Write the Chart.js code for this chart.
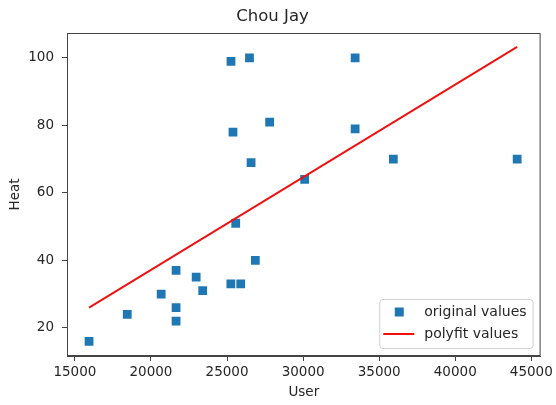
<!DOCTYPE html>
<html>
<head>
<meta charset="utf-8">
<title>Chou Jay</title>
<script src="https://cdn.jsdelivr.net/npm/chart.js@4/dist/chart.umd.min.js"></script>
<style>
  body { margin: 0; background: #fff; }
  #wrap { width: 556px; height: 405px; }
</style>
</head>
<body>
<div id="wrap"><canvas id="chart" width="556" height="405"></canvas></div>
<script>
// データ
const userValues = [15930, 18440, 20670, 21650, 21650, 21650, 22970, 23400, 25250, 25900, 25570,
  26860, 25260, 26475, 25390, 26580, 27800, 30100, 33420, 33420, 35930, 44070];
const heatValues = [16, 24, 30, 37, 26, 22, 35, 31, 33, 33, 51,
  40, 99, 100, 78, 69, 81, 64, 100, 79, 70, 70];

// 近似直線の両端
const polyUser = [15930, 44070];
const polyHeat = [26.0, 103.3];

// 目盛り
const xTicks = [15000, 20000, 25000, 30000, 35000, 40000, 45000];
const yTicks = [20, 40, 60, 80, 100];

const textColor = '#262626';
const frameColor = '#444';
const font = "'DejaVu Sans', sans-serif";

// 凡例と枠線を描くプラグイン
const framePlugin = {
  id: 'frame',
  afterDraw(chart) {
    const { ctx, chartArea: a } = chart;
    ctx.save();
    ctx.strokeStyle = frameColor;
    ctx.lineWidth = 1;
    ctx.strokeRect(a.left + 0.5, a.top + 0.5, a.right - a.left - 1, a.bottom - a.top - 1);

    // 凡例
    ctx.font = '14px ' + font;
    const labels = chart.data.datasets.map(d => d.label);
    const textW = Math.max(...labels.map(l => ctx.measureText(l).width));
    const boxW = 4 + 31 + 10 + textW + 6;
    const boxH = 49;
    const bx = a.right - 8 - boxW;
    const by = a.bottom - 8 - boxH;
    ctx.beginPath();
    ctx.roundRect(bx + 0.5, by + 0.5, boxW, boxH, 3);
    ctx.fillStyle = 'rgba(255,255,255,0.8)';
    ctx.fill();
    ctx.strokeStyle = '#d0d0d0';
    ctx.stroke();

    const hx = bx + 4;
    const row1 = by + 13;
    const row2 = by + 35;
    // 四角マーカー
    ctx.fillStyle = chart.data.datasets[1].backgroundColor;
    ctx.fillRect(hx + 16 - 4.5, row1 - 4.5, 9, 9);
    // 線
    ctx.strokeStyle = chart.data.datasets[0].borderColor;
    ctx.lineWidth = 2;
    ctx.beginPath();
    ctx.moveTo(hx, row2);
    ctx.lineTo(hx + 31, row2);
    ctx.stroke();

    ctx.fillStyle = textColor;
    ctx.textBaseline = 'middle';
    ctx.textAlign = 'left';
    ctx.fillText(chart.data.datasets[1].label, hx + 41, row1);
    ctx.fillText(chart.data.datasets[0].label, hx + 41, row2);
    ctx.restore();
  }
};

const ctx = document.getElementById('chart').getContext('2d');
new Chart(ctx, {
  type: 'scatter',
  data: {
    datasets: [
      {
        label: 'polyfit values',
        data: polyUser.map((u, i) => ({ x: u, y: polyHeat[i] })),
        showLine: true,
        borderColor: '#f01010',
        borderWidth: 1.9,
        pointRadius: 0,
        order: 0,
      },
      {
        label: 'original values',
        data: userValues.map((u, i) => ({ x: u, y: heatValues[i] })),
        backgroundColor: '#1f77b4',
        borderColor: '#1f77b4',
        borderWidth: 0,
        pointStyle: 'rect',
        pointRadius: 6.2,
        order: 1,
      }
    ]
  },
  options: {
    responsive: false,
    animation: false,
    layout: { padding: { left: 0, right: 11, top: 0, bottom: 0 } },
    plugins: {
      legend: { display: false },
      tooltip: { enabled: false },
      title: {
        display: true,
        text: 'Chou Jay',
        color: textColor,
        font: { family: font, size: 16.5, weight: 'normal', lineHeight: 1.2 },
        padding: { top: 7, bottom: 6.2 },
      }
    },
    scales: {
      x: {
        type: 'linear',
        min: 14480,
        max: 45610,
        afterBuildTicks: s => { s.ticks = xTicks.map(v => ({ value: v })); },
        afterFit: s => { s.height = 49; },
        grid: { display: true, drawOnChartArea: false, drawTicks: true, tickLength: 5, color: frameColor, tickColor: frameColor },
        border: { display: true, color: frameColor },
        ticks: {
          color: textColor,
          padding: 3,
          maxRotation: 0,
          font: { family: font, size: 13.5 },
          callback: v => String(v),
        },
        title: {
          display: true,
          text: 'User',
          color: textColor,
          font: { family: font, size: 13.5 },
          padding: { top: 4, bottom: 4 },
        }
      },
      y: {
        type: 'linear',
        min: 11.65,
        max: 107.4,
        afterBuildTicks: s => { s.ticks = yTicks.map(v => ({ value: v })); },
        afterFit: s => { s.width = 67; },
        grid: { display: true, drawOnChartArea: false, drawTicks: true, tickLength: 5, color: frameColor, tickColor: frameColor },
        border: { display: true, color: frameColor },
        ticks: {
          color: textColor,
          padding: 8,
          font: { family: font, size: 13.5 },
          callback: v => String(v),
        },
        title: {
          display: true,
          text: 'Heat',
          color: textColor,
          font: { family: font, size: 13.5 },
          padding: { top: 7, bottom: 0 },
        }
      }
    }
  },
  plugins: [framePlugin]
});
</script>
</body>
</html>
